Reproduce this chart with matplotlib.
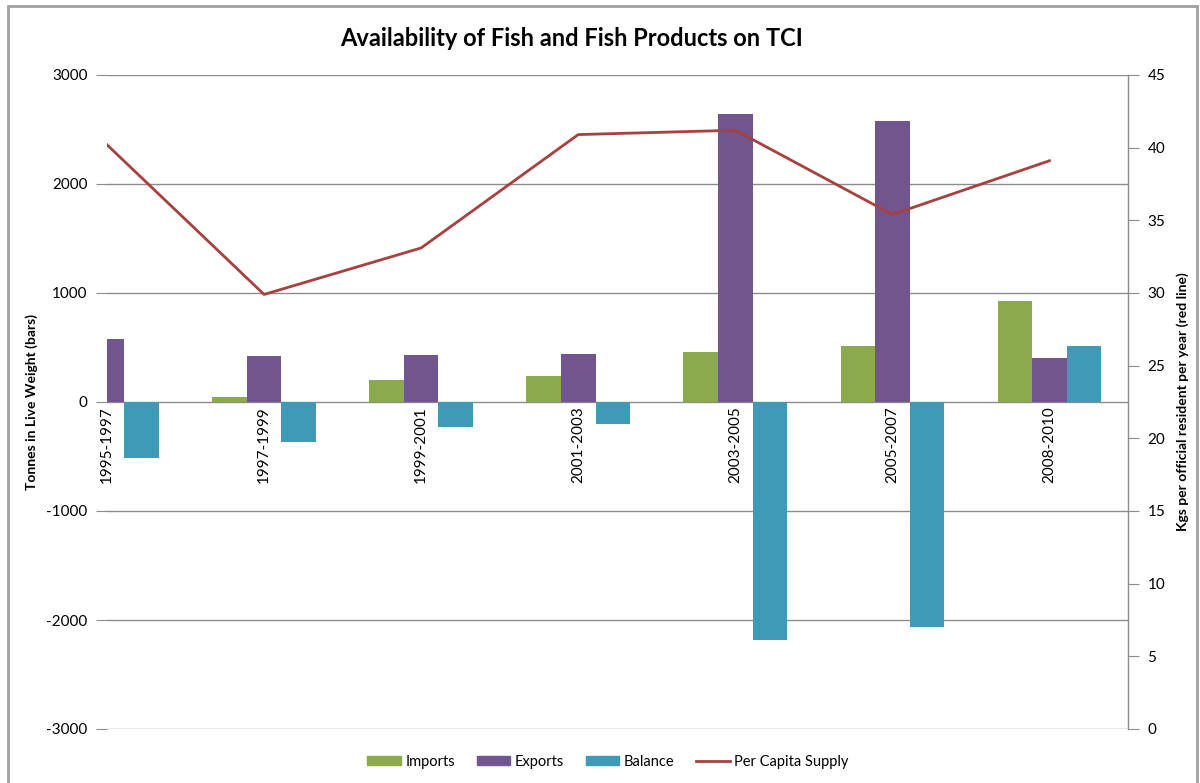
import matplotlib
matplotlib.use("Agg")
import matplotlib.pyplot as plt
from matplotlib.patches import Rectangle, Patch
from matplotlib.lines import Line2D
import numpy as np

plt.rcParams['font.family'] = ['Lato', 'DejaVu Sans']
plt.rcParams['axes.unicode_minus'] = False

# data
periods = ["1995-1997", "1997-1999", "1999-2001", "2001-2003", "2003-2005", "2005-2007", "2008-2010"]
imports = [0, 50, 200, 240, 460, 515, 930]
exports = [580, 420, 430, 440, 2640, 2580, 405]
balance = [-515, -365, -230, -200, -2180, -2065, 510]
per_capita = [40.2, 29.9, 33.1, 40.9, 41.2, 35.4, 39.1]

c_imp = "#8BAA4D"
c_exp = "#71558F"
c_bal = "#3E9AB6"
c_line = "#A8403E"
grey = "#8C8C8C"

fig = plt.figure(figsize=(12, 7.83), dpi=100)
ax = fig.add_axes([107/1200, 1 - 729/783, (1128 - 107)/1200, (729 - 75)/783])

x = np.arange(len(periods))
w = 0.22
ax.bar(x - w, imports, w, color=c_imp, zorder=3)
ax.bar(x, exports, w, color=c_exp, zorder=3)
ax.bar(x + w, balance, w, color=c_bal, zorder=3)

ax.set_xlim(0, len(periods) - 0.5)
ax.set_ylim(-3000, 3000)
ax.set_yticks(range(-3000, 3001, 1000))
ax.yaxis.grid(True, color=grey, linewidth=1, zorder=0)
ax.set_xticks([])
for s in ["left", "top", "bottom", "right"]:
    ax.spines[s].set_visible(False)
ax.tick_params(axis='y', length=8, color=grey, labelsize=11, pad=6)
ax.set_ylabel("Tonnes in Live Weight (bars)", fontsize=10, fontweight="bold")
ax.yaxis.set_label_coords((38 - 107) / 1021, 0.5)

for xi, lab in zip(x, periods):
    ax.text(xi, -40, lab, rotation=90, ha="center", va="top", fontsize=11, zorder=4)

ax2 = ax.twinx()
ax2.plot(x, per_capita, color=c_line, linewidth=2, zorder=5)
ax2.set_ylim(0, 45)
ax2.set_yticks(range(0, 46, 5))
for s in ["left", "top", "bottom"]:
    ax2.spines[s].set_visible(False)
ax2.spines["right"].set_color(grey)
ax2.spines["right"].set_linewidth(1)
ax2.tick_params(axis='y', length=8, color=grey, labelsize=11, pad=6)
ax2.set_ylabel("Kgs per official resident per year (red line)", fontsize=10,
               fontweight="bold")
ax2.yaxis.set_label_coords((1176 - 107) / 1021, 0.5)
ax2.set_xlim(0, len(periods) - 0.5)

fig.text(572/1200, 1 - 38/783, "Availability of Fish and Fish Products on TCI",
         ha="center", va="center", fontsize=17, fontweight="bold")

handles = [Patch(color=c_imp), Patch(color=c_exp), Patch(color=c_bal),
           Line2D([], [], color=c_line, linewidth=2)]
fig.legend(handles, ["Imports", "Exports", "Balance", "Per Capita Supply"],
           loc="center", bbox_to_anchor=(608/1200, 1 - 762/783), ncol=4,
           frameon=False, fontsize=10.5, handlelength=2.3, handleheight=0.6,
           columnspacing=1.5, handletextpad=0.3)

fig.patches.append(Rectangle((8/1200, -0.02), 1189/1200, 1.02 - 6/783,
                             transform=fig.transFigure, fill=False,
                             edgecolor="#A0A0A0", linewidth=2))

fig.savefig("out.png", dpi=100)
